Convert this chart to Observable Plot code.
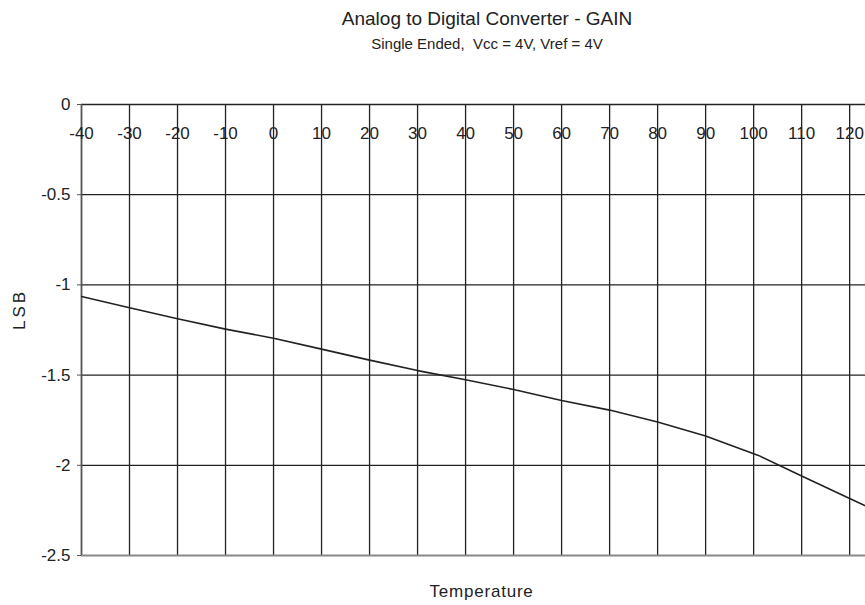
<!DOCTYPE html>
<html>
<head>
<meta charset="utf-8">
<script src="https://cdn.jsdelivr.net/npm/d3@7"></script>
<script src="https://cdn.jsdelivr.net/npm/@observablehq/plot@0.6"></script>
<style>
  html, body { margin: 0; padding: 0; background: #fff; }
  #wrap { position: relative; width: 865px; height: 605px; overflow: hidden; font-family: "Liberation Sans", Arial, sans-serif; color: #222; }
  .t { position: absolute; left: 0; width: 865px; padding-left: 109px; box-sizing: border-box; text-align: center; white-space: pre; line-height: 1; }
  #title { top: 9px; font-size: 19px; }
  #subtitle { top: 36px; font-size: 15px; }
  #chart { position: absolute; left: 0; top: 60px; }
</style>
</head>
<body>
<div id="wrap">
  <div class="t" id="title">Analog to Digital Converter - GAIN</div>
  <div class="t" id="subtitle">Single Ended,  Vcc = 4V, Vref = 4V</div>
  <div id="chart"></div>
</div>
<script>
const temperature = [-40, -30, -20, -10, 0, 10, 20, 30, 40, 50, 60, 70, 80, 90, 101, 110, 120, 125];
const gainLSB = [-1.064, -1.127, -1.188, -1.245, -1.296, -1.356, -1.417, -1.475, -1.526, -1.580, -1.641, -1.694, -1.760, -1.837, -1.945, -2.059, -2.184, -2.246];
const xTicks = [-40, -30, -20, -10, 0, 10, 20, 30, 40, 50, 60, 70, 80, 90, 100, 110, 120];
const yTicks = [0, -0.5, -1, -1.5, -2, -2.5];
const xLabel = "Temperature";
const yLabel = "LSB";

const data = temperature.map((t, i) => ({t, v: gainLSB[i]}));
const ink = "#222";

const chart = Plot.plot({
  width: 865,
  height: 545,
  marginLeft: 81,
  marginRight: 0,
  marginTop: 44,
  marginBottom: 50,
  style: {fontFamily: "Liberation Sans, Arial, sans-serif", fontSize: "17px", color: ink, background: "#fff", overflow: "hidden"},
  x: {domain: [-40, 123.3], axis: null},
  y: {domain: [-2.5, 0], axis: null},
  marks: [
    Plot.ruleX(xTicks, {stroke: ink, strokeWidth: 1.3}),
    Plot.ruleY(yTicks.filter(d => d !== -2.5), {stroke: ink, strokeWidth: 1.3}),
    Plot.ruleY([-2.5], {stroke: "#888", strokeWidth: 2}),
    Plot.ruleX([-40], {stroke: "#555", strokeWidth: 1.5}),
    Plot.axisY(yTicks, {tickSize: 4, tickPadding: 7, tickFormat: d => String(d), fontSize: 17, stroke: "#555", label: null}),
    Plot.text(xTicks, {x: d => d, y: 0, dy: 29, text: d => String(d), fontSize: 17, fill: ink}),
    Plot.line(data, {x: "t", y: "v", stroke: ink, strokeWidth: 1.6, clip: true}),
    Plot.text([xLabel], {frameAnchor: "bottom", dy: 36, text: d => d, fontSize: 17, fill: ink, lineAnchor: "middle", dx: 8, className: "xlab"}),
    Plot.text([yLabel], {frameAnchor: "left", dx: -62, text: d => d, fontSize: 17, fill: ink, rotate: -90, className: "ylab"})
  ]
});
d3.select(chart).selectAll(".xlab text").attr("letter-spacing", "0.8px");
d3.select(chart).selectAll(".ylab text").attr("letter-spacing", "3px");
document.getElementById("chart").appendChild(chart);
</script>
</body>
</html>
